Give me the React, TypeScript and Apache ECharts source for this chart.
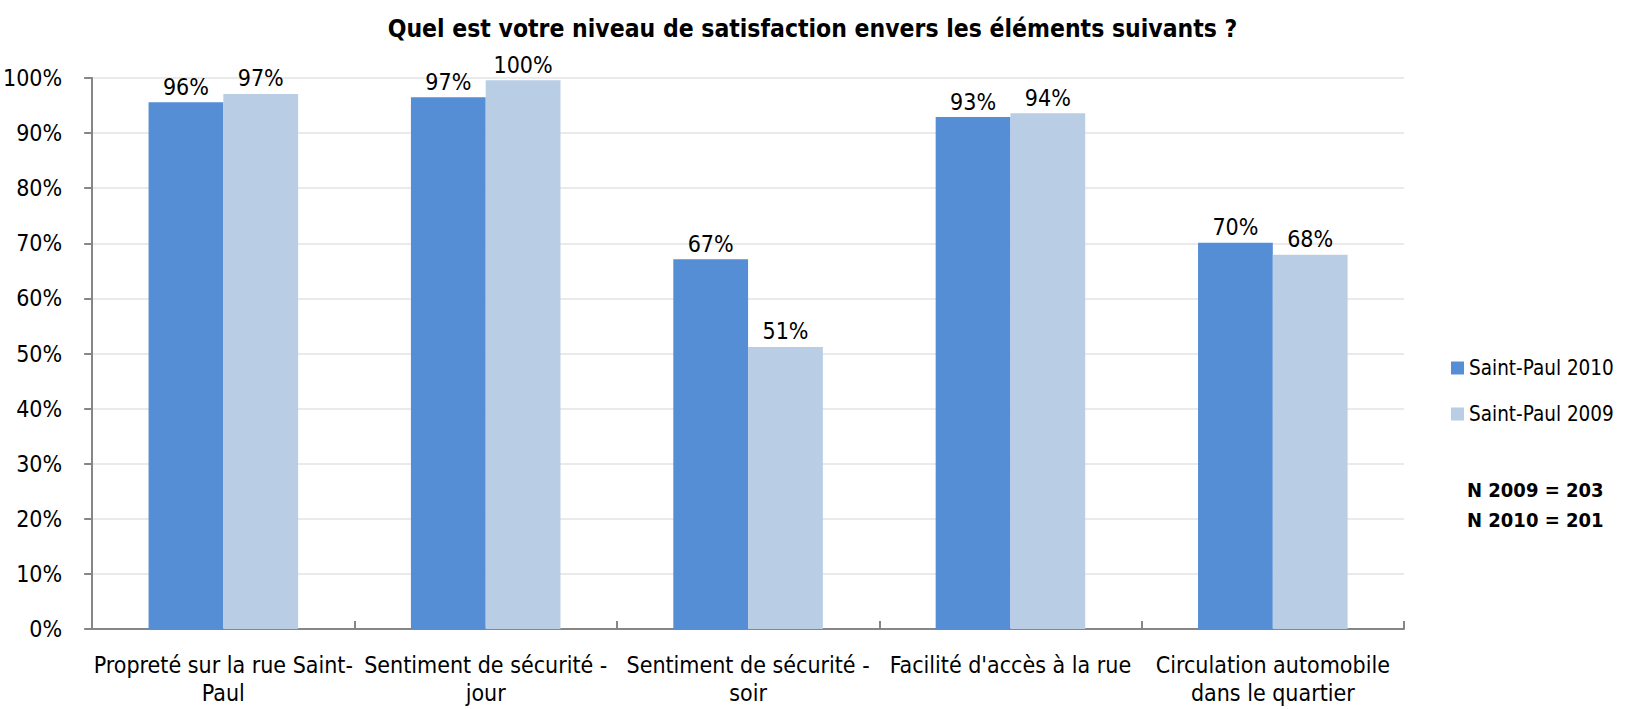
import React, { useEffect, useRef } from "react";
import * as echarts from "echarts";

const categories = [
  "Propreté sur la rue Saint-\nPaul",
  "Sentiment de sécurité -\njour",
  "Sentiment de sécurité -\nsoir",
  "Facilité d'accès à la rue",
  "Circulation automobile\ndans le quartier",
];
const series2010 = [95.6, 96.5, 67.1, 92.9, 70.1];
const series2009 = [97.1, 99.6, 51.2, 93.6, 67.9];
const seriesNames = ["Saint-Paul 2010", "Saint-Paul 2009"];
const yTicks = { min: 0, max: 100, interval: 10 };
const title = "Quel est votre niveau de satisfaction envers les éléments suivants ?";
const notes = ["N 2009 = 203", "N 2010 = 201"];

const FONT = "'Liberation Sans Narrow', 'Arial Narrow', 'DejaVu Sans Condensed', sans-serif";

export default function App() {
  const ref = useRef<HTMLDivElement>(null);
  useEffect(() => {
    document.body.style.margin = "0";
    const chart = echarts.init(ref.current!, null, { renderer: "svg" });
    const labelOpt = {
      show: true,
      position: "top",
      distance: 4,
      color: "#000",
      fontFamily: FONT,
      fontSize: 23,
      formatter: (p: any) => Math.round(p.value) + "%",
    };
    chart.setOption({
      animation: false,
      textStyle: { fontFamily: FONT },
      title: {
        text: title,
        left: "center",
        top: 11,
        textStyle: { fontFamily: FONT, fontSize: 24.5, fontWeight: "bold", color: "#000" },
      },
      legend: {
        orient: "vertical",
        left: 1446,
        top: 351,
        itemWidth: 13,
        itemHeight: 13,
        itemGap: 22,
        icon: "rect",
        data: seriesNames,
        textStyle: { fontFamily: FONT, fontSize: 20.5, color: "#000", padding: [0, 0, 0, 0], lineHeight: 24 },
      },
      grid: { left: 91, right: 221, top: 78, bottom: 80, containLabel: false },
      xAxis: {
        type: "category",
        data: categories,
        axisLine: { lineStyle: { color: "#868686", width: 2 } },
        axisTick: { show: true, inside: true, length: 8, lineStyle: { color: "#868686", width: 2 } },
        axisLabel: {
          color: "#000",
          fontFamily: FONT,
          fontSize: 23,
          lineHeight: 28,
          margin: 22,
          interval: 0,
        },
      },
      yAxis: {
        type: "value",
        min: yTicks.min,
        max: yTicks.max,
        interval: yTicks.interval,
        axisLine: { show: true, lineStyle: { color: "#868686", width: 2 } },
        axisTick: { show: true, length: 8, lineStyle: { color: "#868686", width: 2 } },
        splitLine: { lineStyle: { color: "#E3E3E3", width: 1.5 } },
        axisLabel: {
          color: "#000",
          fontFamily: FONT,
          fontSize: 23,
          margin: 30,
          formatter: (v: number) => v + "%",
        },
      },
      series: [
        {
          name: seriesNames[0],
          type: "bar",
          data: series2010,
          barGap: "0%",
          barCategoryGap: "43%",
          itemStyle: { color: "#558ED5" },
          label: labelOpt,
        },
        {
          name: seriesNames[1],
          type: "bar",
          data: series2009,
          itemStyle: { color: "#B9CDE5" },
          label: labelOpt,
        },
      ],
      graphic: notes.map((t, i) => ({
        type: "text",
        left: 1467,
        top: 480 + i * 30,
        style: { text: t, fontFamily: FONT, fontSize: 20, fontWeight: "bold", fill: "#000" },
      })),
    });
    return () => chart.dispose();
  }, []);
  return <div ref={ref} style={{ width: 1625, height: 709 }} />;
}
